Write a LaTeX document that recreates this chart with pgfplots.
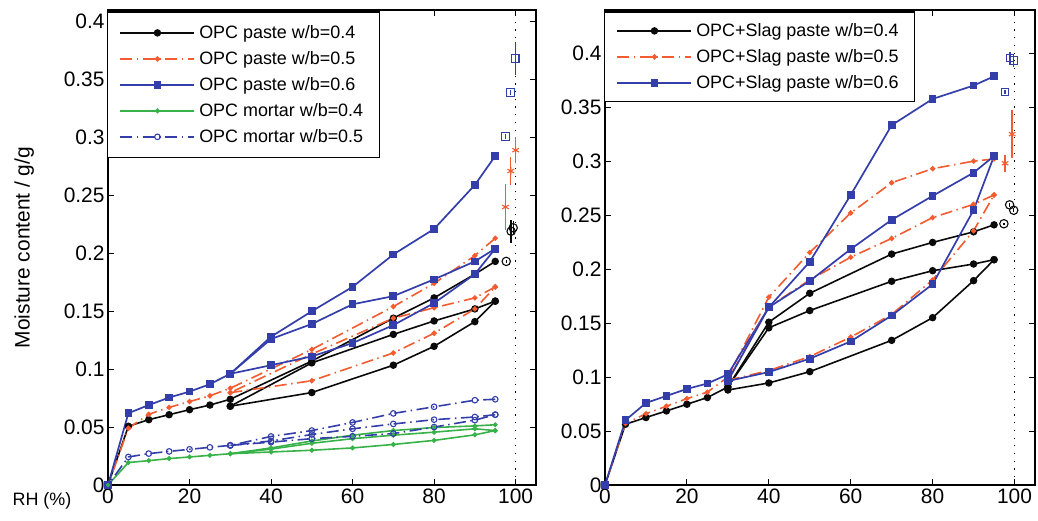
\documentclass[border=0pt]{standalone}
\usepackage{fontspec}
\setmainfont{Liberation Sans}
\usepackage{pgfplots}
\pgfplotsset{compat=1.18}

\definecolor{cblk}{RGB}{10,10,10}
\definecolor{cred}{RGB}{242,92,48}
\definecolor{cblu}{RGB}{52,62,170}
\definecolor{cgrn}{RGB}{55,178,72}

\pgfplotsset{
  panel/.style={
    scale only axis, height=475bp,
    xmin=0, xmax=105,
    xtick={0,20,40,60,80,100},
    ytick={0,0.05,0.1,0.15,0.2,0.25,0.3,0.35,0.4},
    yticklabels={0,0.05,0.1,0.15,0.2,0.25,0.3,0.35,0.4},
    /pgf/number format/assume math mode=true,
    tick label style={font=\fontsize{21}{24}\selectfont, black},
    axis line style={line width=1.4bp, black},
    tick style={line width=0.9bp, black},
    major tick length=6bp,
    tick align=inside,
    clip=false,
    legend cell align=left,
    legend style={font=\fontsize{18}{21.5}\selectfont, draw=black, line width=1.3bp,
      at={(axis description cs:0,1)}, anchor=north west, xshift=-1bp, yshift=-1.5bp,
      inner xsep=12bp, inner ysep=11bp, row sep=6.5bp,
      nodes={inner ysep=2.5bp, inner xsep=4bp}},
    legend image post style={line width=1.6bp},
    legend image code/.code={
      \draw[mark repeat=2,mark phase=2] plot coordinates {(0bp,0bp) (37bp,0bp) (74bp,0bp)};
    },
  },
  sblk/.style={cblk, line width=1.6bp, mark=*, mark size=2.9bp, mark options={solid}},
  sred/.style={cred, line width=1.6bp, dash pattern=on 12bp off 4.5bp on 1.5bp off 4.5bp, mark=*, mark size=1.8bp, mark options={solid}},
  sblu/.style={cblu, line width=1.7bp, mark=square*, mark size=3bp, mark options={solid}},
  sgrn/.style={cgrn, line width=1.6bp, mark=*, mark size=1.6bp, mark options={solid}},
  smor/.style={cblu, line width=1.6bp, dash pattern=on 12bp off 4.5bp on 1.5bp off 4.5bp, mark=o, mark size=2.8bp, mark options={solid, line width=1.1bp}},
  vdot/.style={black, line width=1bp, dash pattern=on 1.2bp off 6.5bp, forget plot},
  cap/.style={only marks, line width=1.1bp, forget plot,
    error bars/y dir=both, error bars/y explicit,
    error bars/error bar style={line width=1.3bp}, error bars/error mark=none},
}

\begin{document}
\begin{tikzpicture}
\useasboundingbox (0bp,0bp) rectangle (1038bp,521bp);

% ---------------- OPC pastes and mortars ----------------
\begin{axis}[panel, width=428bp, ymin=0, ymax=0.41,
  at={(108bp,36bp)}, anchor=south west,
  ylabel={Moisture content / g/g},
  ylabel style={at={(axis description cs:-0.196,0.5)}, anchor=center, font=\fontsize{21}{24}\selectfont},
  xlabel={RH (\%)},
  xlabel style={at={(axis description cs:0,0)}, anchor=center, xshift=-66bp, yshift=-16bp, font=\fontsize{18}{21}\selectfont},
]
% first desorption curves (legend entries)
\addplot[sblk] coordinates {(95,0.193)(90,0.182)(80,0.1615)(70,0.144)(50,0.107)(30,0.074)(25,0.069)(20,0.065)(15,0.0607)(10,0.0564)(5,0.0507)(0,0)};
\addlegendentry{OPC paste w/b=0.4}
\addplot[sred] coordinates {(95,0.213)(90,0.198)(80,0.174)(70,0.154)(50,0.117)(30,0.0835)(25,0.077)(20,0.072)(15,0.067)(10,0.061)(5,0.049)(0,0)};
\addlegendentry{OPC paste w/b=0.5}
\addplot[sblu] coordinates {(95,0.284)(90,0.259)(80,0.221)(70,0.199)(60,0.171)(50,0.150)(40,0.128)(30,0.096)(25,0.087)(20,0.0806)(15,0.0755)(10,0.069)(5,0.062)(0,0)};
\addlegendentry{OPC paste w/b=0.6}
\addplot[sgrn] coordinates {(95,0.052)(90,0.051)(80,0.0496)(70,0.047)(60,0.043)(50,0.038)(40,0.032)(30,0.027)(25,0.0256)(20,0.0242)(15,0.0228)(10,0.021)(5,0.0194)(0,0)};
\addlegendentry{OPC mortar w/b=0.4}
\addplot[smor] coordinates {(95,0.074)(90,0.0732)(80,0.0675)(70,0.0618)(60,0.054)(50,0.047)(40,0.0419)(30,0.0342)(25,0.0325)(20,0.0308)(15,0.029)(10,0.0271)(5,0.0242)(0,0)};
\addlegendentry{OPC mortar w/b=0.5}

% absorption and second desorption
\addplot[sblk, forget plot] coordinates {(30,0.068)(50,0.0798)(70,0.1034)(80,0.1197)(90,0.141)(95,0.1587)};
\addplot[sblk, forget plot] coordinates {(95,0.1587)(90,0.152)(80,0.1416)(70,0.130)(50,0.1054)(30,0.068)};
\addplot[sred, forget plot] coordinates {(30,0.0797)(50,0.090)(70,0.114)(80,0.131)(90,0.152)(95,0.171)};
\addplot[sred, forget plot] coordinates {(95,0.171)(90,0.1615)(80,0.153)(70,0.144)(50,0.113)(30,0.0797)};
\addplot[sblu, forget plot] coordinates {(30,0.096)(40,0.1034)(50,0.111)(60,0.1225)(70,0.138)(80,0.157)(90,0.182)(95,0.204)};
\addplot[sblu, forget plot] coordinates {(95,0.204)(90,0.193)(80,0.1775)(70,0.163)(60,0.156)(50,0.139)(40,0.126)(30,0.096)};
\addplot[sgrn, forget plot] coordinates {(30,0.027)(40,0.0285)(50,0.030)(60,0.032)(70,0.035)(80,0.0385)(90,0.0433)(95,0.047)};
\addplot[sgrn, forget plot] coordinates {(95,0.047)(90,0.0485)(80,0.0456)(70,0.043)(60,0.040)(50,0.036)(40,0.031)(30,0.027)};
\addplot[smor, forget plot] coordinates {(30,0.0342)(40,0.037)(50,0.040)(60,0.042)(70,0.0444)(80,0.050)(90,0.056)(95,0.0607)};
\addplot[smor, forget plot] coordinates {(95,0.0607)(90,0.0587)(80,0.0564)(70,0.0527)(60,0.0485)(50,0.0436)(40,0.038)(30,0.0342)};

% saturation line
\addplot[vdot] coordinates {(100,0)(100,0.41)};

% capillary saturation values
\addplot[cap, cblu, mark=square, mark size=3.8bp] table[x=x, y=y, y error=e] {
x y e
99.9 0.368 0.014
98.8 0.339 0.002
97.5 0.301 0.002
};
\addplot[cap, cred, mark=asterisk, mark size=3.8bp] table[x=x, y=y, y error=e] {
x y e
100.0 0.289 0.011
98.8 0.271 0.012
97.5 0.240 0.020
};
\addplot[cap, cblk, mark=o, mark size=4.2bp] table[x=x, y=y, y error=e] {
x y e
98.9 0.219 0.010
99.4 0.222 0.006
97.7 0.193 0.001
};
\end{axis}

% ---------------- OPC + slag pastes ----------------
\begin{axis}[panel, width=430bp, ymin=0, ymax=0.44,
  at={(605bp,36bp)}, anchor=south west,
  legend style={inner ysep=9bp},
]
\addplot[sblk] coordinates {(95,0.241)(90,0.2345)(80,0.2247)(70,0.2139)(50,0.1776)(40,0.1508)(30,0.0908)(25,0.081)(20,0.0748)(15,0.0686)(10,0.0625)(5,0.0563)(0,0)};
\addlegendentry{OPC+Slag paste w/b=0.4}
\addplot[sred] coordinates {(95,0.302)(90,0.300)(80,0.293)(70,0.280)(60,0.252)(50,0.2154)(40,0.174)(30,0.100)(25,0.086)(20,0.080)(15,0.073)(10,0.066)(5,0.057)(0,0)};
\addlegendentry{OPC+Slag paste w/b=0.5}
\addplot[sblu] coordinates {(95,0.3786)(90,0.370)(80,0.3576)(70,0.3333)(60,0.2687)(50,0.2068)(40,0.1646)(30,0.1025)(25,0.094)(20,0.089)(15,0.0825)(10,0.076)(5,0.060)(0,0)};
\addlegendentry{OPC+Slag paste w/b=0.6}

\addplot[sblk, forget plot] coordinates {(30,0.088)(40,0.0945)(50,0.105)(70,0.134)(80,0.155)(90,0.1893)(95,0.2087)};
\addplot[sblk, forget plot] coordinates {(95,0.2087)(90,0.2047)(80,0.1985)(70,0.1887)(50,0.1616)(40,0.1456)(30,0.0908)};
\addplot[sred, forget plot] coordinates {(30,0.097)(40,0.106)(50,0.119)(60,0.137)(70,0.158)(80,0.190)(90,0.2355)(95,0.2687)};
\addplot[sred, forget plot] coordinates {(95,0.2687)(90,0.260)(80,0.2477)(70,0.2284)(60,0.211)(50,0.190)(40,0.165)(30,0.097)};
\addplot[sblu, forget plot] coordinates {(30,0.0963)(40,0.1046)(50,0.117)(60,0.133)(70,0.157)(80,0.186)(90,0.2546)(95,0.3047)};
\addplot[sblu, forget plot] coordinates {(95,0.3047)(90,0.2893)(80,0.2678)(70,0.2456)(60,0.2185)(50,0.189)(40,0.1646)(30,0.0963)};

\addplot[vdot] coordinates {(100,0)(100,0.44)};

\addplot[cap, cblu, mark=square, mark size=3.8bp] table[x=x, y=y, y error=e] {
x y e
98.9 0.3955 0.006
99.8 0.393 0.006
97.7 0.364 0.002
};
\addplot[cap, cred, mark=asterisk, mark size=3.8bp] table[x=x, y=y, y error=e] {
x y e
99.4 0.325 0.022
97.7 0.298 0.008
};
\addplot[cap, cblk, mark=o, mark size=4.2bp] table[x=x, y=y, y error=e] {
x y e
98.8 0.2595 0.002
99.8 0.2545 0.002
97.4 0.242 0.001
};
\end{axis}
\end{tikzpicture}
\end{document}
